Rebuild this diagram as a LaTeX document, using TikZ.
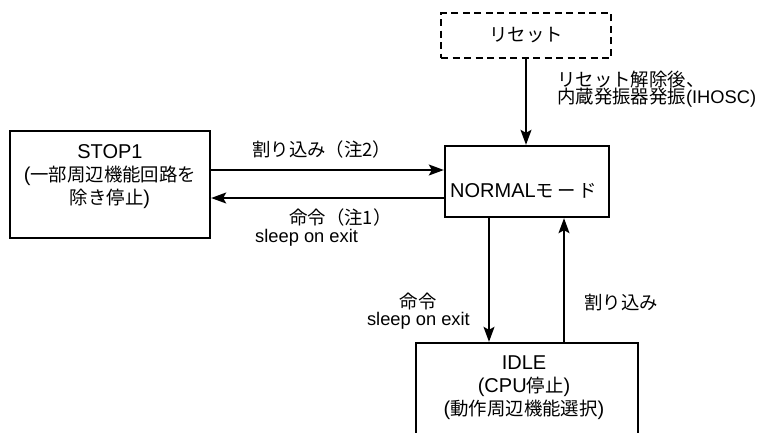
\documentclass[tikz,border=0pt]{standalone}
\usepackage{fontspec}
\setmainfont{Liberation Sans}
\newfontfamily\jpfont{Noto Sans CJK JP}
\newcommand{\jp}[1]{{\jpfont\fontsize{18.4}{23}\selectfont #1}}
\usetikzlibrary{arrows.meta}

\tikzset{
  statebox/.style={draw, rectangle, line width=2.4pt, inner sep=0pt},
  resetbox/.style={statebox, dash pattern=on 7pt off 4.5pt},
  boxtext/.style={align=center, inner sep=0pt, font=\fontsize{20}{23}\selectfont},
  lbl/.style={inner sep=0pt, align=left, font=\fontsize{18.3}{19}\selectfont},
  trans/.style={-{Stealth[length=15pt,width=11pt,inset=3pt]}, line width=1.5pt},
}

\begin{document}
\begin{tikzpicture}[x=1pt,y=-1pt]
    \useasboundingbox (0,0) rectangle (757,432);
    \clip (0,0) rectangle (757,432);

    % boxes
    \node[resetbox, minimum width=170pt, minimum height=45pt] (reset) at (526,35.5) {};
    \node[statebox, minimum width=164pt, minimum height=71pt] (normal) at (527,181.5) {};
    \node[statebox, minimum width=200pt, minimum height=107pt] (stop) at (110,184.5) {};
    \node[statebox, minimum width=222pt, minimum height=140pt] (idle) at (527,413) {};

    % box texts
    \node[boxtext] (resettxt) at (reset.center) {\jp{リセット}};
    \node[boxtext, anchor=base west] (normaltxt) at (450,197) {NORMAL\jp{モ\,ー\,ド}};
    \node[boxtext] (stoptxt) at (110,177) {STOP1\\(\jp{一部周辺機能回路を}\\\jp{除き停止})};
    \node[boxtext] (idletxt) at (524,388) {IDLE\\(CPU\jp{停止})\\(\jp{動作周辺機能選択})};

    % transitions
    \draw[trans] (reset.south) -- (reset.south |- normal.north);
    \draw[trans] ([yshift=14.5pt]stop.east) -- ([yshift=14.5pt]stop.east -| normal.west);
    \draw[trans] ([yshift=-16.5pt]normal.west) -- ([yshift=-16.5pt]normal.west -| stop.east);
    \draw[trans] ([xshift=-38pt]normal.south) -- ([xshift=-38pt]normal.south |- idle.north);
    \draw[trans] ([xshift=37pt]idle.north) -- ([xshift=37pt]idle.north |- normal.south);

    % labels
    \node[lbl, anchor=base west] (wake2) at (252,156) {\jp{割り込み（注2）}};
    \node[lbl, anchor=base west] (cmd1) at (289,224) {\jp{命令（注1）}};
    \node[lbl, anchor=base west] (soe1) at (255,242) {sleep on exit};
    \node[lbl, anchor=base west] (rel1) at (557,86) {\jp{リセット解除後、}};
    \node[lbl, anchor=base west] (rel2) at (557,103) {\jp{内蔵発振器発振}(IHOSC)};
    \node[lbl, anchor=base] (cmd2) at (418,308) {\jp{命令}};
    \node[lbl, anchor=base east] (soe2) at (470,325) {sleep on exit};
    \node[lbl, anchor=base west] (wake) at (584,309) {\jp{割り込み}};
\end{tikzpicture}
\end{document}
